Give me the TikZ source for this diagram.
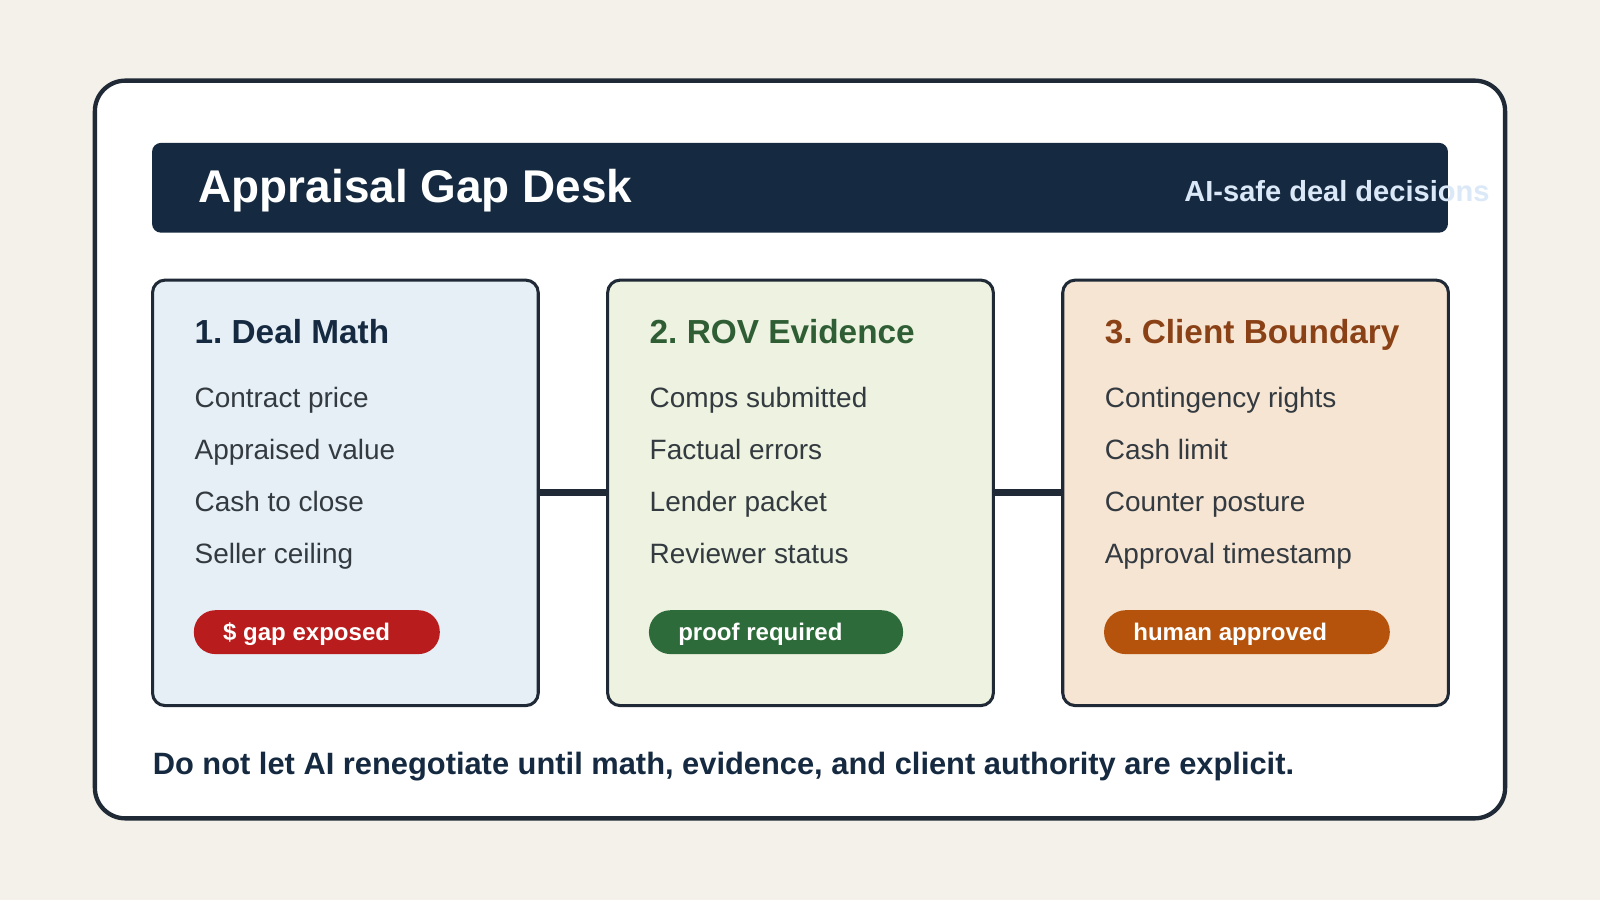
\documentclass[tikz,border=0pt]{standalone}
\usepackage{fontspec}
\setmainfont{Liberation Sans}
\frenchspacing
\definecolor{bgc}{HTML}{F4F0EA}
\definecolor{ink}{HTML}{1F2A36}
\definecolor{navy}{HTML}{152A40}
\definecolor{sub}{HTML}{DBE8F7}
\definecolor{blueC}{HTML}{E6EFF6}
\definecolor{greenC}{HTML}{EDF3E0}
\definecolor{orangeC}{HTML}{F6E5D3}
\definecolor{greenT}{HTML}{2F5E35}
\definecolor{brownT}{HTML}{8A4116}
\definecolor{redP}{HTML}{B91C1C}
\definecolor{greenP}{HTML}{2E6B3A}
\definecolor{orangeP}{HTML}{B5530D}
\definecolor{txt}{HTML}{333A40}
\tikzset{
 card/.style={draw=ink,line width=0.85pt,rounded corners=3.5pt,minimum width=37.8mm,minimum height=41.7mm,inner sep=0pt},
 item/.style={anchor=base west,inner sep=0pt,text=txt,font=\fontsize{7.8}{9}\selectfont},
 ctitle/.style={anchor=base west,inner sep=0pt,font=\fontsize{9.3}{11}\selectfont\bfseries},
 pill/.style={rounded corners=2.1mm,minimum height=4.3mm,inner sep=0pt},
 ptext/.style={anchor=base west,inner sep=0pt,text=white,font=\fontsize{6.7}{9}\selectfont\bfseries},
 link/.style={draw=ink,line width=2pt}
}
\begin{document}
\begin{tikzpicture}[x=0.1mm,y=-0.1mm]
 \fill[bgc] (0,0) rectangle (1568,882); %背景
 \draw[ink,fill=white,line width=1.2pt,rounded corners=8.5pt] (93,79) rectangle (1475,802); %外枠
 \fill[navy,rounded corners=2.5pt] (149,140) rectangle (1419,228); %見出し
 \node[anchor=base west,inner sep=0pt,text=white,font=\fontsize{12.8}{15}\selectfont\bfseries] (title) at (194,198) {Appraisal Gap Desk};
 \node[anchor=base west,inner sep=0pt,text=sub,font=\fontsize{8.1}{10}\selectfont\bfseries] (tag) at (1160,197) {AI-safe deal decisions};

 % カード
 \node[card,fill=blueC,anchor=north west] (deal) at (148,273) {};
 \node[card,fill=greenC,anchor=north west] (rov) at (594,273) {};
 \node[card,fill=orangeC,anchor=north west] (client) at (1040,273) {};
 \draw[link] ([xshift=-0.3mm]deal.east) -- ([xshift=0.3mm]rov.west);
 \draw[link] ([xshift=-0.3mm]rov.east) -- ([xshift=0.3mm]client.west);

 \node[ctitle,text=navy] (t1) at (190,337) {1. Deal Math};
 \node[ctitle,text=greenT] (t2) at (636,337) {2. ROV Evidence};
 \node[ctitle,text=brownT] (t3) at (1082,337) {3. Client Boundary};

 \foreach \txt [count=\i] in {Contract price,Appraised value,Cash to close,Seller ceiling}
  \node[item] (a\i) at (190,348+51*\i) {\txt};
 \foreach \txt [count=\i] in {Comps submitted,Factual errors,Lender packet,Reviewer status}
  \node[item] (b\i) at (636,348+51*\i) {\txt};
 \foreach \txt [count=\i] in {Contingency rights,Cash limit,Counter posture,Approval timestamp}
  \node[item] (c\i) at (1082,348+51*\i) {\txt};

 % ラベル
 \fill[redP,pill] (190,598) rectangle (431,641);
 \node[ptext] (p1) at (218,628) {\$ gap exposed};
 \fill[greenP,pill] (636,598) rectangle (885,641);
 \node[ptext] (p2) at (664,628) {proof required};
 \fill[orangeP,pill] (1082,598) rectangle (1362,641);
 \node[ptext] (p3) at (1110,628) {human approved};

 \node[anchor=base west,inner sep=0pt,text=navy,font=\fontsize{8.6}{10}\selectfont\bfseries] (foot) at (149,759) {Do not let AI renegotiate until math, evidence, and client authority are explicit.};
\end{tikzpicture}
\end{document}
